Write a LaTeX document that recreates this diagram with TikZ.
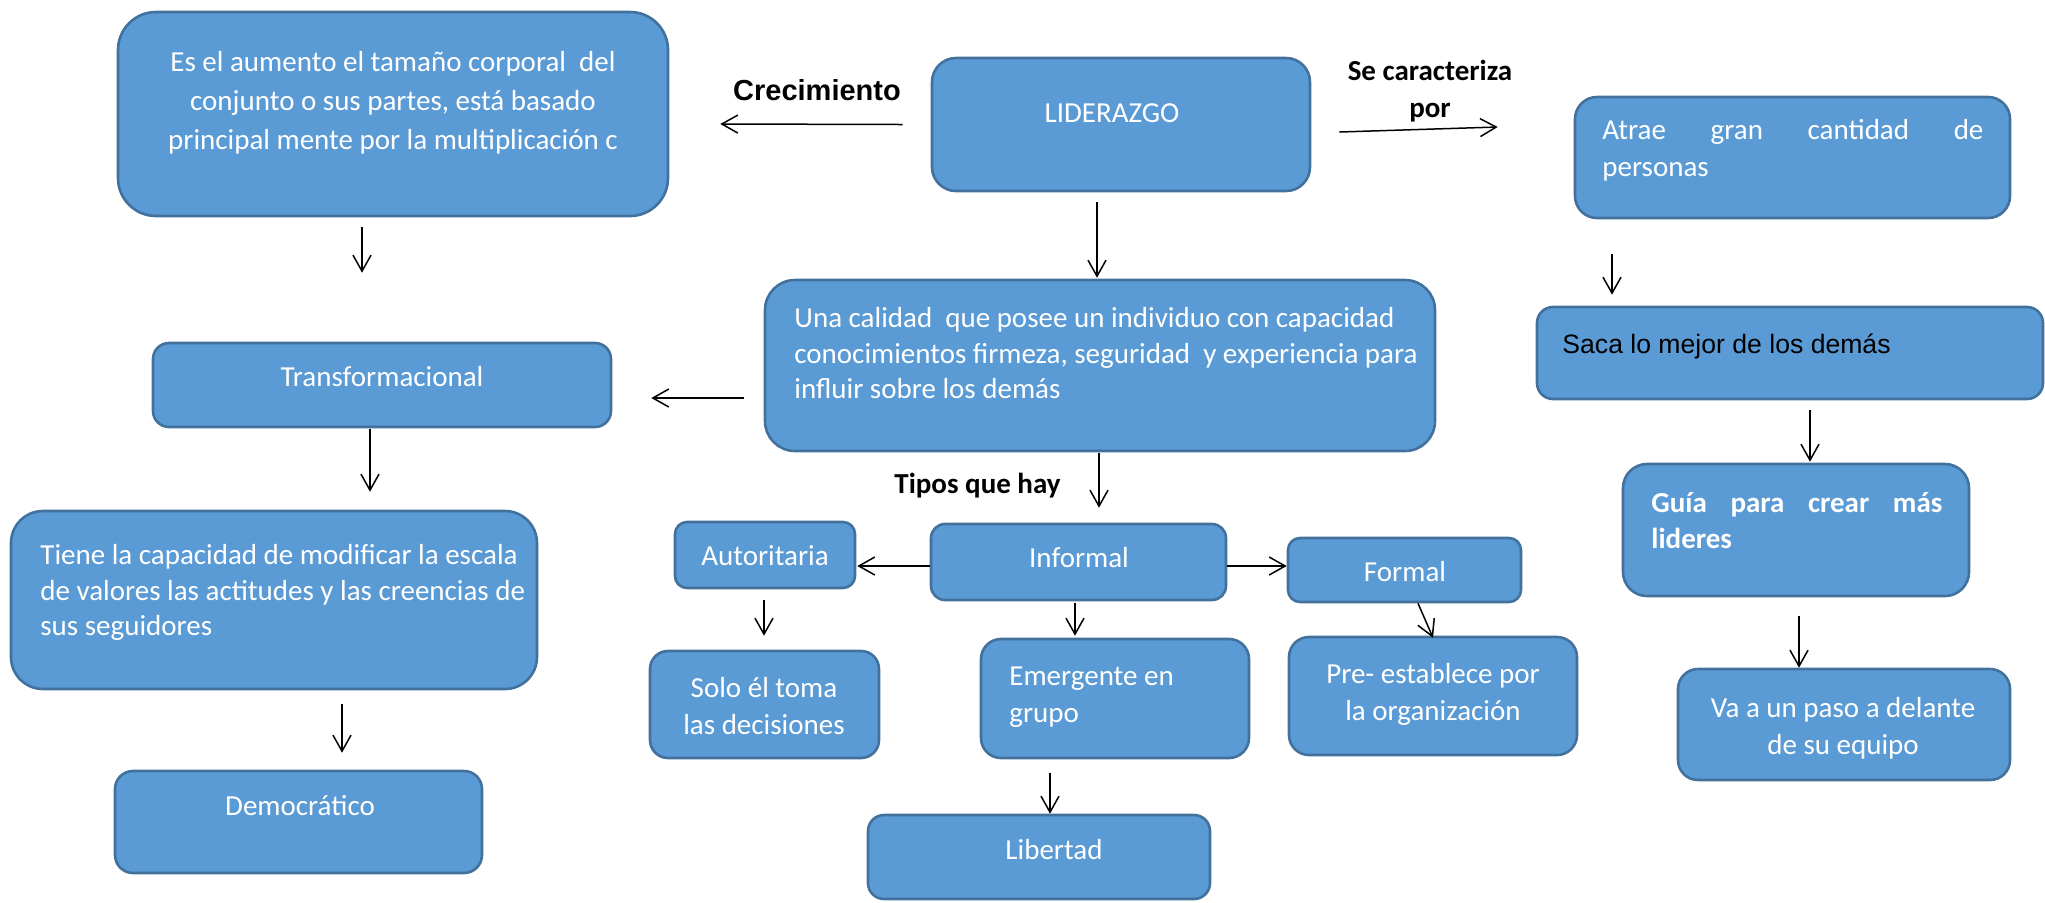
\documentclass[tikz,border=0pt]{standalone}
\usepackage{fontspec}
\setmainfont{Carlito}
\newfontfamily\arialfont{Liberation Sans}
\usetikzlibrary{arrows.meta}
\definecolor{cajaazul}{RGB}{91,155,213}
\definecolor{bordeazul}{RGB}{65,113,156}
\newlength{\pixel}
\setlength{\pixel}{0.5pt}

\begin{document}
\begin{tikzpicture}[
    x = \pixel, y = -\pixel,
    caja/.style = {draw = bordeazul, fill = cajaazul, line width = 1.3pt, inner sep = 0pt},
    texto/.style = {text = white, inner sep = 0pt, font = \fontsize{14.5}{18.5}\selectfont},
    rotulo/.style = {text = black, inner sep = 0pt, font = \bfseries\fontsize{14.5}{18.5}\selectfont},
    flecha/.style = {draw = black, line width = 0.75pt, -{Straight Barb[length = 8pt, width = 9pt]}}
  ]
    \useasboundingbox (0, 0) rectangle (2045, 902);

    \node[caja, rounded corners = 19pt, minimum width = 550\pixel, minimum height = 204\pixel]
      (aumento) at (393, 114) {};
    \node[caja, rounded corners = 12pt, minimum width = 378\pixel, minimum height = 133\pixel]
      (lider) at (1121, 124.5) {};
    \node[caja, rounded corners = 11pt, minimum width = 435\pixel, minimum height = 121\pixel]
      (atrae) at (1792.5, 157.5) {};
    \node[caja, rounded corners = 8pt, minimum width = 506\pixel, minimum height = 92\pixel]
      (saca) at (1790, 353) {};
    \node[caja, rounded corners = 15pt, minimum width = 670\pixel, minimum height = 171\pixel]
      (calidad) at (1100, 365.5) {};
    \node[caja, rounded corners = 8pt, minimum width = 458\pixel, minimum height = 84\pixel]
      (transf) at (382, 385) {};
    \node[caja, rounded corners = 16pt, minimum width = 526\pixel, minimum height = 178\pixel]
      (tiene) at (274, 600) {};
    \node[caja, rounded corners = 9pt, minimum width = 367\pixel, minimum height = 102\pixel]
      (democ) at (298.5, 822) {};
    \node[caja, rounded corners = 6pt, minimum width = 180\pixel, minimum height = 66\pixel]
      (autor) at (765, 555) {};
    \node[caja, rounded corners = 9pt, minimum width = 229\pixel, minimum height = 107\pixel]
      (solo) at (764.5, 704.5) {};
    \node[caja, rounded corners = 7pt, minimum width = 295\pixel, minimum height = 76\pixel]
      (informal) at (1078.5, 562) {};
    \node[caja, rounded corners = 6pt, minimum width = 233\pixel, minimum height = 64\pixel]
      (formal) at (1404.5, 570) {};
    \node[caja, rounded corners = 10pt, minimum width = 268\pixel, minimum height = 119\pixel]
      (emerg) at (1115, 698.5) {};
    \node[caja, rounded corners = 10pt, minimum width = 288\pixel, minimum height = 118\pixel]
      (pre) at (1433, 696) {};
    \node[caja, rounded corners = 8pt, minimum width = 342\pixel, minimum height = 84\pixel]
      (libertad) at (1039, 857) {};
    \node[caja, rounded corners = 12pt, minimum width = 346\pixel, minimum height = 132\pixel]
      (guia) at (1796, 530) {};
    \node[caja, rounded corners = 10pt, minimum width = 332\pixel, minimum height = 111\pixel]
      (va) at (1844, 724.5) {};

    \node[texto, anchor = north, align = center, font = \fontsize{14.5}{19.5}\selectfont]
      (aumento-txt) at (393, 51)
      {Es el aumento el tamaño corporal~ del\\ conjunto o sus partes, está basado\\ principal mente por la multiplicación c};
    \node[texto] (lider-txt) at (1112, 113) {LIDERAZGO};
    \node[texto, anchor = north west, text width = 190.5pt, align = justify]
      (atrae-txt) at (1602, 119) {Atrae gran cantidad de\linebreak personas};
    \node[texto, anchor = base west, text = black, font = \arialfont\fontsize{13.3}{16}\selectfont]
      (saca-txt) at (1562, 353) {Saca lo mejor de los demás};
    \node[texto, anchor = north west, align = left, font = \fontsize{14.5}{17.75}\selectfont]
      (calidad-txt) at (794, 307)
      {Una calidad~ que posee un individuo con capacidad\\ conocimientos firmeza, seguridad~ y experiencia para\\ influir sobre los demás};
    \node[texto] (transf-txt) at (382, 377) {Transformacional};
    \node[texto, anchor = north west, align = left, font = \fontsize{14.5}{17.75}\selectfont]
      (tiene-txt) at (40, 544)
      {Tiene la capacidad de modificar la escala\\ de valores las actitudes y las creencias de\\ sus seguidores};
    \node[texto] (democ-txt) at (300, 806) {Democrático};
    \node[texto] (autor-txt) at (765, 556) {Autoritaria};
    \node[texto, anchor = north, align = center] (solo-txt) at (764, 677) {Solo él toma\\ las decisiones};
    \node[texto] (informal-txt) at (1079, 558) {Informal};
    \node[texto] (formal-txt) at (1405, 572) {Formal};
    \node[texto, anchor = north west, align = left] (emerg-txt) at (1009, 666) {Emergente en\\ grupo};
    \node[texto, anchor = north, align = center] (pre-txt) at (1433, 663) {Pre- establece por\\ la organización};
    \node[texto] (libertad-txt) at (1054, 850) {Libertad};
    \node[texto, anchor = north west, text width = 145.5pt, align = justify, font = \bfseries\fontsize{14.5}{18}\selectfont]
      (guia-txt) at (1651, 492) {Guía para crear más\linebreak \mbox{lideres}};
    \node[texto, anchor = north, align = center] (va-txt) at (1843, 697) {Va a un paso a delante\\ de su equipo};

    \node[rotulo, font = \arialfont\bfseries\fontsize{14.5}{17}\selectfont]
      (crec) at (817, 90) {Crecimiento};
    \node[rotulo, anchor = north, align = center] (caract) at (1430, 60) {Se caracteriza\\ por};
    \node[rotulo, anchor = base west] (tipos) at (894, 493) {Tipos que hay};

    \draw[flecha] ([shift = {(-28, 0)}]lider.west) -- ([shift = {(51, 10)}]aumento.east);
    \draw[flecha] ([shift = {(28, 7.5)}]lider.east) -- ([shift = {(-76, -30.5)}]atrae.west);
    \draw[flecha] ([shift = {(-31, 10)}]aumento.south) -- ([shift = {(-20, -69)}]transf.north);
    \draw[flecha] ([shift = {(-20, 32.5)}]calidad.west) -- ([shift = {(39, 13)}]transf.east);
    \draw[flecha] ([shift = {(-24, 10)}]lider.south) -- ([shift = {(-3, -1)}]calidad.north);
    \draw[flecha] ([shift = {(-12, 1)}]transf.south) -- ([shift = {(96, -18)}]tiene.north);
    \draw[flecha] ([shift = {(68, 14)}]tiene.south) -- ([shift = {(43.5, -17)}]democ.north);
    \draw[flecha] ([shift = {(-1, 1)}]calidad.south) -- ([shift = {(20.5, -15)}]informal.north);
    \draw[flecha] ([shift = {(0, 4)}]informal.west) -- ([shift = {(1, 11)}]autor.east);
    \draw[flecha] ([shift = {(0, 4)}]informal.east) -- ([shift = {(0, -4)}]formal.west);
    \draw[flecha] ([shift = {(-1, 11)}]autor.south) -- ([shift = {(-0.5, -14)}]solo.north);
    \draw[flecha] ([shift = {(-3.5, 2)}]informal.south) -- ([shift = {(-40, -2)}]emerg.north);
    \draw[flecha] ([shift = {(13.5, 0)}]formal.south) -- ([shift = {(0, 2)}]pre.north);
    \draw[flecha] ([shift = {(-65, 14)}]emerg.south) -- ([shift = {(11, 0)}]libertad.north);
    \draw[flecha] ([shift = {(-180.5, 35)}]atrae.south) -- ([shift = {(-178, -11)}]saca.north);
    \draw[flecha] ([shift = {(20, 10)}]saca.south) -- ([shift = {(14, -1)}]guia.north);
    \draw[flecha] ([shift = {(3, 19)}]guia.south) -- ([shift = {(-45, 0)}]va.north);
  \end{tikzpicture}
\end{document}
